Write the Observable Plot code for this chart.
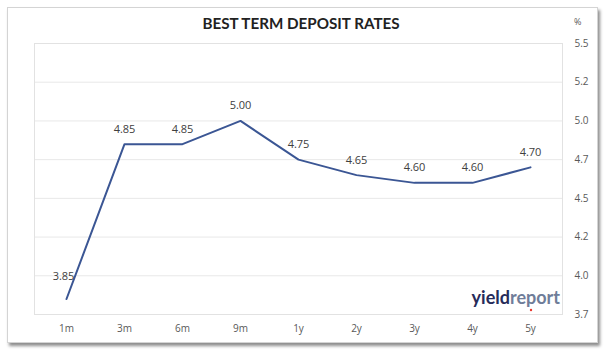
<!DOCTYPE html>
<html>
<head>
<meta charset="utf-8">
<script src="https://cdn.jsdelivr.net/npm/d3@7"></script>
<script src="https://cdn.jsdelivr.net/npm/@observablehq/plot@0.6"></script>
<style>
  html, body { margin: 0; padding: 0; background: #fff; }
  #wrap { position: relative; width: 608px; height: 354px; overflow: hidden; }
  #box { position: absolute; left: 7px; top: 7px; width: 589px; height: 334px;
         border: 1px solid #d4d4d4; box-shadow: 2px 3px 3px rgba(0,0,0,0.45); background: #fff; }
  #title { position: absolute; left: 0; width: 602px; top: 14px; text-align: center;
           font-family: Lato, "Open Sans", sans-serif; font-weight: bold; font-size: 15.2px; color: #222; }
  #unit { position: absolute; left: 574px; top: 15px; font-family: "Open Sans", sans-serif; font-size: 9px; color: #595959; }
  #chart { position: absolute; left: 0; top: 0; }
</style>
</head>
<body>
<div id="wrap">
  <div id="box"></div>
  <div id="chart"></div>
  <div id="title">BEST TERM DEPOSIT RATES</div>
  <div id="unit">%</div>
</div>
<script>
const categories = ["1m", "3m", "6m", "9m", "1y", "2y", "3y", "4y", "5y"];
const rates = [3.85, 4.85, 4.85, 5.00, 4.75, 4.65, 4.60, 4.60, 4.70];
const yTicks = [3.75, 4.0, 4.25, 4.5, 4.75, 5.0, 5.25, 5.5];
const yTickLabels = ["3.7", "4.0", "4.2", "4.5", "4.7", "5.0", "5.2", "5.5"];

const data = categories.map((term, i) => ({term, rate: rates[i], label: rates[i].toFixed(2)}));

const fontFam = "'Open Sans', 'Liberation Sans', sans-serif";

const plot = Plot.plot({
  width: 608,
  height: 354,
  marginLeft: 34,
  marginRight: 46,
  marginTop: 43,
  marginBottom: 40,
  style: {background: "transparent", fontFamily: fontFam, fontSize: "10px", color: "#595959"},
  x: {type: "point", domain: categories, padding: 0.5, label: null},
  y: {domain: [3.75, 5.5], label: null},
  marks: [
    Plot.ruleY(yTicks, {stroke: "#e8e8e8", strokeWidth: 1}),
    Plot.frame({stroke: "#e2e2e2"}),
    Plot.axisX({tickSize: 0, tickPadding: 10, fontSize: 10, fill: "#595959"}),
    Plot.axisY({anchor: "right", ticks: yTicks, tickSize: 0, tickPadding: 12, textAnchor: "start",
                tickFormat: (d) => yTickLabels[yTicks.indexOf(d)], fontSize: 10, fill: "#595959"}),
    Plot.line(data, {x: "term", y: "rate", stroke: "#3b5694", strokeWidth: 2}),
    Plot.text(data.slice(1), {x: "term", y: "rate", text: "label", dy: -15, fontSize: 11, fill: "#404040"}),
    Plot.text(data.slice(0, 1), {x: "term", y: "rate", text: "label", dy: -23, dx: -3, fontSize: 11, fill: "#404040"})
  ]
});
document.getElementById("chart").appendChild(plot);

// yieldreport logo
const svg = d3.select(plot);
const logo = svg.append("text")
  .attr("x", 560).attr("y", 304)
  .attr("text-anchor", "end")
  .attr("font-family", "Lato, 'Open Sans', sans-serif")
  .attr("font-weight", "bold")
  .attr("font-size", 18);
logo.append("tspan").attr("fill", "#262b5a").text("yield");
logo.append("tspan").attr("fill", "#6f7d99").text("report");
svg.append("circle").attr("cx", 531).attr("cy", 310).attr("r", 1.2).attr("fill", "#e8382e");
</script>
</body>
</html>
